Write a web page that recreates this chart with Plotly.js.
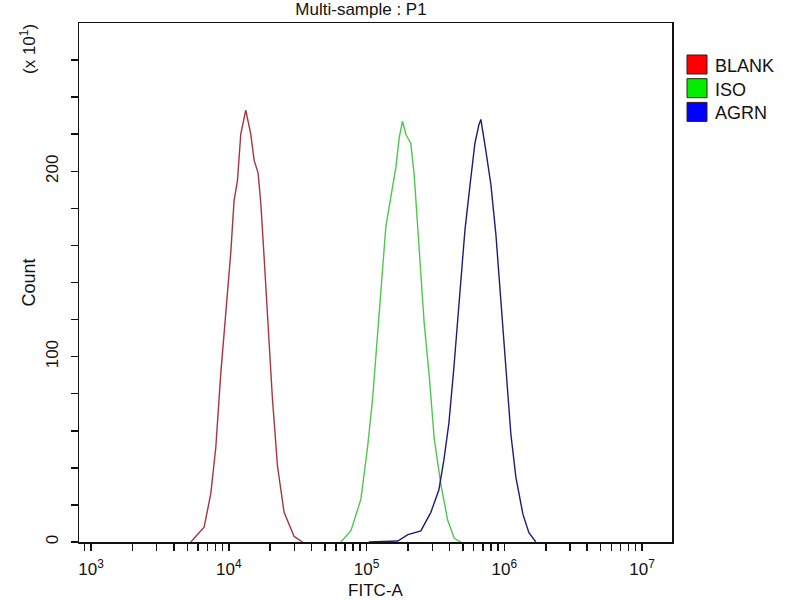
<!DOCTYPE html>
<html>
<head>
<meta charset="utf-8">
<script src="https://cdn.plot.ly/plotly-3.0.1.min.js"></script>
<style>html,body{margin:0;padding:0;background:#fff;}#chart{width:800px;height:600px;}</style>
</head>
<body>
<div id="chart"></div>
<script>
// ---- data (FITC-A value, count in units of 10) ----
var seriesNames = ["BLANK", "ISO", "AGRN"];
var blankX = [5300, 6620, 7400, 8050, 8750, 9500, 10340, 10920, 11560, 12220, 13280, 14440, 15270, 16330, 17070, 18040, 19630, 20760, 22570, 25210, 29810, 34290];
var blankY = [0, 8, 26, 51, 91, 123, 156, 184, 195, 220, 233, 220, 206, 199, 183, 154, 109, 77, 41, 16, 3, 0];
var isoX = [65000, 76900, 90900, 101700, 110600, 120200, 130700, 138100, 150100, 163200, 172600, 182500, 192900, 209700, 221800, 241100, 262100, 285000, 309800, 346500, 387500, 433000, 484000];
var isoY = [0, 6, 23, 51, 77, 113, 145, 170, 186, 202, 218, 227, 220, 215, 198, 155, 118, 90, 56, 31, 12, 2, 0];
var agrnX = [104000, 168700, 199400, 247900, 293000, 335000, 364000, 396000, 430600, 476000, 517700, 562700, 611800, 654000, 676000, 735000, 799000, 869000, 944000, 1027000, 1117000, 1214000, 1365000, 1509000, 1695000];
var agrnY = [0, 0.5, 4, 6, 16, 28, 44, 64, 94, 133, 168, 192, 215, 225, 228, 211, 193, 166, 130, 94, 58, 35, 15, 5, 0];

var lineColors = ["#a8343f", "#4cc84c", "#1c1c78"];
var legendColors = ["#ff0000", "#00ee00", "#0000ff"];

var xTickVals = [1000, 10000, 100000, 1000000, 10000000];
var xTickText = ["10<sup>3</sup>", "10<sup>4</sup>", "10<sup>5</sup>", "10<sup>6</sup>", "10<sup>7</sup>"];
var xMinorVals = [900, 2000, 3000, 4000, 5000, 6000, 7000, 8000, 9000,
  20000, 30000, 40000, 50000, 60000, 70000, 80000, 90000,
  200000, 300000, 400000, 500000, 600000, 700000, 800000, 900000,
  2000000, 3000000, 4000000, 5000000, 6000000, 7000000, 8000000, 9000000];
var yTickVals = [0, 100, 200];
var yTickText = ["0", "100", "200"];
var yMinorVals = [20, 40, 60, 80, 120, 140, 160, 180, 220, 240, 260];

var font = "Liberation Sans, Arial, sans-serif";
var xs = [blankX, isoX, agrnX], ys = [blankY, isoY, agrnY];
var traces = [];
for (var i = 0; i < 3; i++) {
  traces.push({
    type: "scatter", mode: "lines", x: xs[i], y: ys[i], name: seriesNames[i],
    line: {color: lineColors[i], width: 1.4}, showlegend: false, hoverinfo: "skip"
  });
}

var shapes = [], annotations = [];
for (var j = 0; j < 3; j++) {
  var boxTop = 55 + j * 23.7;
  shapes.push({type: "rect", xref: "paper", yref: "paper",
    x0: (687 - 79) / 593, x1: (707 - 79) / 593,
    y0: (542 - boxTop - 19) / 519, y1: (542 - boxTop) / 519,
    fillcolor: legendColors[j], line: {color: "#3a1a1a", width: 1}});
  annotations.push({xref: "paper", yref: "paper", x: (713 - 79) / 593, y: (542 - boxTop - 11) / 519,
    xanchor: "left", yanchor: "middle", showarrow: false, text: seriesNames[j],
    font: {family: font, size: 18, color: "#111"}});
}
annotations.push({xref: "paper", yref: "paper", x: (28 - 79) / 593, y: (542 - 49) / 519,
  xanchor: "center", yanchor: "middle", showarrow: false, textangle: -90,
  text: "(x 10<sup>1</sup>)", font: {family: font, size: 17, color: "#111"}});

var minorStyle = function (vals) {
  return {tickmode: "array", tickvals: vals, ticks: "outside", ticklen: 7, tickwidth: 1.5,
    tickcolor: "#111", showgrid: false};
};

var layout = {
  width: 800, height: 600,
  margin: {l: 79, r: 128, t: 23, b: 58, pad: 0},
  paper_bgcolor: "#fff", plot_bgcolor: "#fff",
  title: {text: "Multi-sample : P1", x: (361 - 79) / 593, xref: "paper", xanchor: "center",
    y: 1 - 9 / 600, yanchor: "middle", yref: "container",
    font: {family: font, size: 17, color: "#111"}},
  xaxis: {type: "log", range: [Math.log10(818), Math.log10(16500000)],
    tickmode: "array", tickvals: xTickVals, ticktext: xTickText,
    ticks: "outside", ticklen: 7, tickwidth: 1.5, tickcolor: "#111",
    minor: minorStyle(xMinorVals),
    showline: true, linecolor: "#111", linewidth: 1.5, mirror: true,
    showgrid: false, zeroline: false, automargin: false,
    ticklabelstandoff: 4,
    tickfont: {family: font, size: 17, color: "#111"},
    title: {text: "FITC-A", standoff: 6, font: {family: font, size: 17, color: "#111"}}},
  yaxis: {range: [0, 280], tickmode: "array", tickvals: yTickVals, ticktext: yTickText,
    tickangle: -90,
    ticks: "outside", ticklen: 7, tickwidth: 1.5, tickcolor: "#111",
    minor: minorStyle(yMinorVals),
    showline: true, linecolor: "#111", linewidth: 1.5, mirror: true,
    showgrid: false, zeroline: false, automargin: false,
    ticklabelstandoff: 6,
    tickfont: {family: font, size: 17, color: "#111"},
    title: {text: "Count", standoff: 2, font: {family: font, size: 18, color: "#111"}}},
  shapes: shapes, annotations: annotations, showlegend: false
};
Plotly.newPlot("chart", traces, layout, {staticPlot: true, displayModeBar: false});
</script>
</body>
</html>
